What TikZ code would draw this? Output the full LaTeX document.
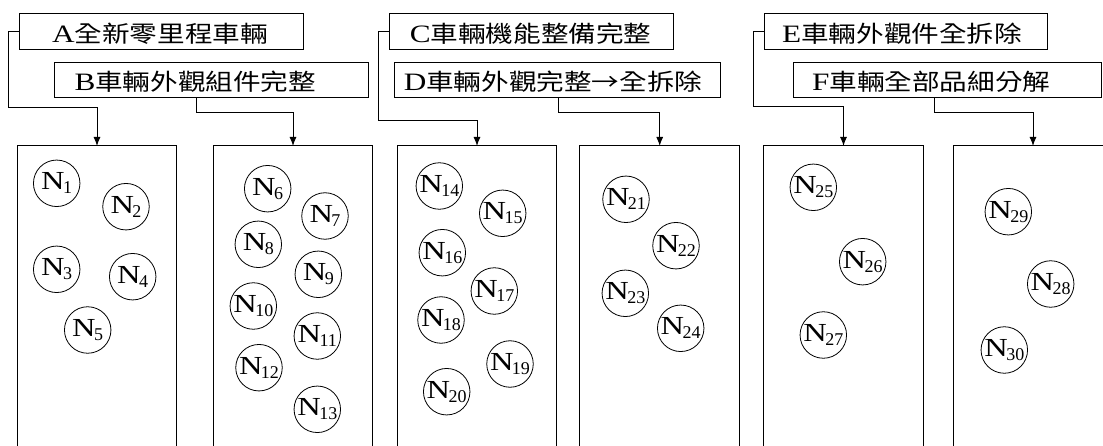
\documentclass[tikz,border=0pt]{standalone}
\usepackage{fontspec}
\usetikzlibrary{arrows.meta}
\newfontfamily\latbox[FakeStretch=1.25]{Liberation Serif}
\newfontfamily\cjkbox[FakeStretch=1.2]{Noto Sans CJK TC}
\newfontfamily\nfont[FakeStretch=1.25]{Liberation Serif}
\newfontfamily\subfont{Liberation Serif}
\newcommand\boxlbl[3]{\hspace*{#1pt}{\fontsize{25}{25}\latbox #2}{\cjkbox #3}}
\newcommand\nlbl[1]{{\nfont N}\kern-1.5pt\raisebox{-4pt}{\fontsize{18}{18}\subfont #1}}
\begin{document}
\begin{tikzpicture}[x=1pt,y=-1pt,
  lblbox/.style={draw, line width=1pt, rectangle, anchor=north west, inner sep=0pt,
    minimum height=35.7pt, align=left, text height=21.4pt, text depth=0pt,
    font=\fontsize{23}{23}\selectfont},
  panel/.style={rectangle, anchor=north, inner sep=0pt, minimum width=159.4pt, minimum height=301pt},
  circ/.style={draw, line width=0.8pt, circle, inner sep=0pt, minimum size=46.5pt,
    font=\fontsize{26}{26}\selectfont},
  conn/.style={line width=1pt, -{Latex[length=9pt,width=7pt]}},
  edge3/.style={line width=1pt}]
\useasboundingbox (0,0) rectangle (1103,446);

% label boxes
\node[lblbox, text width=283.4pt] (A) at (19.3,13.3) {\boxlbl{32.4}{A}{全新零里程車輛}};
\node[lblbox, text width=314pt]   (B) at (54.3,61.7) {\boxlbl{19.7}{B}{車輛外觀組件完整}};
\node[lblbox, text width=283.4pt] (C) at (389.3,13.3) {\boxlbl{20}{C}{車輛機能整備完整}};
\node[lblbox, text width=326pt]   (D) at (394,61.7) {\boxlbl{9.3}{D}{車輛外觀完整→全拆除}};
\node[lblbox, text width=282.7pt] (E) at (764,13.3) {\boxlbl{17.7}{E}{車輛外觀件全拆除}};
\node[lblbox, text width=307.7pt] (F) at (793.3,61.7) {\boxlbl{18.4}{F}{車輛全部品細分解}};

% panels (open at the bottom)
\node[panel] (P1) at (97,146) {};
\node[panel] (P2) at (293,146) {};
\node[panel] (P3) at (477,146) {};
\node[panel] (P4) at (659.7,146) {};
\node[panel] (P5) at (843.5,146) {};
\node[panel] (P6) at (1033,146) {};
\foreach \p in {P1,P2,P3,P4,P5,P6}
  \draw[edge3] (\p.south west) |- (\p.north east) -- (\p.south east);

% connectors
\coordinate (aL) at (8.3,107.7);
\coordinate (bS) at (196,112.7);
\coordinate (cL) at (378.3,120.7);
\coordinate (dS) at (558.3,112.3);
\coordinate (eL) at (753.3,106.7);
\coordinate (fS) at (934.3,112.7);
\draw[conn] (A.west) -| (aL) -| (P1.north);
\draw[conn] (B.south -| bS) -- (bS) -| (P2.north);
\draw[conn] (C.west) -| (cL) -| (P3.north);
\draw[conn] (D.south -| dS) -- (dS) -| (P4.north);
\draw[conn] (E.west) -| (eL) -| (P5.north);
\draw[conn] (F.south -| fS) -- (fS) -| (P6.north);

% circles
\node[circ] (N1) at (56.7,183.3) {\nlbl{1}};
\node[circ] (N2) at (126,206.7) {\nlbl{2}};
\node[circ] (N3) at (56.7,269.3) {\nlbl{3}};
\node[circ] (N4) at (132.7,276.7) {\nlbl{4}};
\node[circ] (N5) at (87.7,330) {\nlbl{5}};
\node[circ] (N6) at (267.7,188.7) {\nlbl{6}};
\node[circ] (N7) at (325,216) {\nlbl{7}};
\node[circ] (N8) at (258.3,244.3) {\nlbl{8}};
\node[circ] (N9) at (318.3,274.3) {\nlbl{9}};
\node[circ] (N10) at (253.3,306) {\nlbl{10}};
\node[circ] (N11) at (317.3,336) {\nlbl{11}};
\node[circ] (N12) at (259,367.7) {\nlbl{12}};
\node[circ] (N13) at (317.3,409.3) {\nlbl{13}};
\node[circ] (N14) at (439.3,186) {\nlbl{14}};
\node[circ] (N15) at (502.7,213.3) {\nlbl{15}};
\node[circ] (N16) at (442.3,252.7) {\nlbl{16}};
\node[circ] (N17) at (494.3,291) {\nlbl{17}};
\node[circ] (N18) at (441,320) {\nlbl{18}};
\node[circ] (N19) at (510,364) {\nlbl{19}};
\node[circ] (N20) at (446.7,391.7) {\nlbl{20}};
\node[circ] (N21) at (626,199.3) {\nlbl{21}};
\node[circ] (N22) at (676,245.7) {\nlbl{22}};
\node[circ] (N23) at (625.3,293.3) {\nlbl{23}};
\node[circ] (N24) at (680.7,328.3) {\nlbl{24}};
\node[circ] (N25) at (813.3,187.3) {\nlbl{25}};
\node[circ] (N26) at (862.7,261.7) {\nlbl{26}};
\node[circ] (N27) at (823.3,335) {\nlbl{27}};
\node[circ] (N29) at (1008.3,211.7) {\nlbl{29}};
\node[circ] (N28) at (1050.7,284) {\nlbl{28}};
\node[circ] (N30) at (1004.3,350) {\nlbl{30}};
\end{tikzpicture}
\end{document}
